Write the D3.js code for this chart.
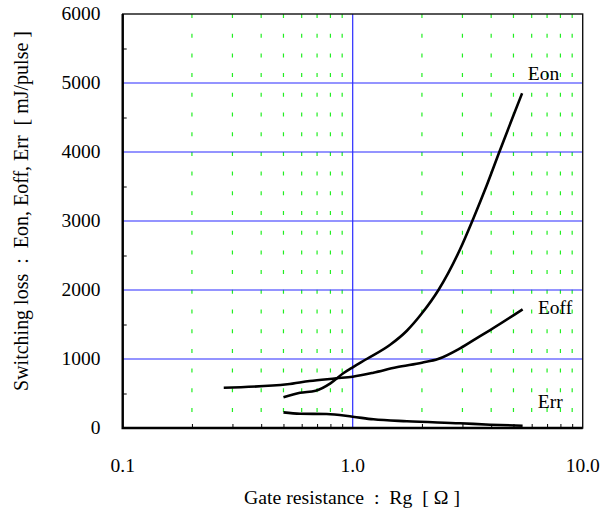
<!DOCTYPE html>
<html>
<head>
  <script src="https://cdnjs.cloudflare.com/ajax/libs/d3/7.8.5/d3.min.js"></script>
  <style>
    body { margin: 0; background: white; }
    .grid-major { stroke: #2a2aff; stroke-width: 1.2px; }
    .grid-minor { stroke: #22ee22; stroke-width: 1.2px; stroke-dasharray: 4 15.7; }
    .curve { fill: none; stroke: black; stroke-width: 2.6px; }
  </style>
</head>
<body>
  <div id="chart"></div>
  <script>
    // values (Rg in ohm, energy in mJ/pulse)
    const eonData = [[0.50,445],[0.59,510],[0.69,540],[0.80,648],[0.91,793],[1.0,880],[1.15,1000],
      [1.45,1203],[1.72,1410],[2.0,1662],[2.36,2000],[2.93,2590],[3.34,3030],[3.82,3510],
      [4.34,4000],[4.91,4464],[5.45,4850]];
    const eoffData = [[0.275,584],[0.52,633],[0.65,681],[0.85,720],[1.0,744],[1.23,801],[1.55,880],
      [2.0,947],[2.35,1000],[2.93,1155],[3.58,1333],[3.96,1420],[5.48,1720]];
    const errData = [[0.50,227],[0.59,207],[0.77,203],[1.0,164],[1.23,126],[1.72,97],
      [2.93,68],[3.96,48],[5.48,33]];

    const xTicks = [0.1, 1, 10];
    const xMinor = [0.2,0.3,0.4,0.5,0.6,0.7,0.8,0.9,2,3,4,5,6,7,8,9];
    const yTicks = [0,1000,2000,3000,4000,5000,6000];
    const yMinor = [500,1500,2500,3500,4500,5500];
    const curveLabels = [
      { name: "Eon",  rg: 6.75, e: 5043 },
      { name: "Eoff", rg: 7.58, e: 1652 },
      { name: "Err",  rg: 7.23, e: 285 }
    ];

    const serif = "'Liberation Serif', 'Times New Roman', serif";
    const width = 613, height = 513;
    const svg = d3.select("#chart").append("svg")
      .attr("width", width).attr("height", height);

    const x = d3.scaleLog().domain([0.1, 10]).range([122.7, 582.7]);
    const y = d3.scaleLinear().domain([0, 6000]).range([428, 14]);

    // green dashed minor verticals
    svg.selectAll(".grid-minor").data(xMinor).enter().append("line")
      .attr("class", "grid-minor")
      .attr("x1", d => x(d)).attr("x2", d => x(d))
      .attr("y1", y(6000)).attr("y2", y(0));

    // blue major grid
    svg.selectAll(".gy").data(yTicks.slice(1, -1)).enter().append("line")
      .attr("class", "grid-major")
      .attr("x1", x(0.1)).attr("x2", x(10))
      .attr("y1", d => y(d)).attr("y2", d => y(d));
    svg.append("line").attr("class", "grid-major")
      .attr("x1", x(1)).attr("x2", x(1))
      .attr("y1", y(6000)).attr("y2", y(0));

    // axes with inward ticks
    const yAxis = svg.append("g").attr("transform", `translate(${x(0.1)},0)`)
      .call(d3.axisRight(y).tickValues(yMinor).tickSize(4).tickFormat(""));
    yAxis.select(".domain").remove();
    yAxis.selectAll("line").attr("stroke", "black");

    const xAxis = svg.append("g").attr("transform", `translate(0,${y(0)})`)
      .call(d3.axisTop(x).tickValues(xMinor).tickSize(4).tickFormat(""));
    xAxis.select(".domain").remove();
    xAxis.selectAll("line").attr("stroke", "black");

    // frame
    svg.append("rect")
      .attr("x", x(0.1)).attr("y", y(6000))
      .attr("width", x(10) - x(0.1)).attr("height", y(0) - y(6000))
      .attr("fill", "none").attr("stroke", "#111").attr("stroke-width", 1.4);
    svg.append("path")
      .attr("d", `M${x(0.1)},${y(6000)}V${y(0)}H${x(10)}`)
      .attr("fill", "none").attr("stroke", "black").attr("stroke-width", 2.4);

    // curves
    const line = d3.line().x(d => x(d[0])).y(d => y(d[1])).curve(d3.curveMonotoneX);
    [eonData, eoffData, errData].forEach(s => {
      svg.append("path").attr("class", "curve").attr("d", line(s));
    });

    // tick labels
    svg.selectAll(".ylab").data(yTicks).enter().append("text")
      .attr("font-family", serif)
      .attr("x", 100.5).attr("y", d => y(d)).attr("dy", "0.32em")
      .attr("text-anchor", "end").attr("font-size", 19.5)
      .text(d => d);
    svg.selectAll(".xlab").data(xTicks).enter().append("text")
      .attr("font-family", serif)
      .attr("x", d => x(d)).attr("y", 472)
      .attr("text-anchor", "middle").attr("font-size", 19.5)
      .text(d => d.toFixed(1));

    // curve labels
    svg.selectAll(".clab").data(curveLabels).enter().append("text")
      .attr("font-family", serif)
      .attr("x", d => x(d.rg)).attr("y", d => y(d.e))
      .attr("text-anchor", "middle").attr("font-size", 19.5)
      .text(d => d.name);

    // axis titles, sized to the span they take in the reference
    function fitText(sel, span) {
      const w = sel.node().getComputedTextLength();
      sel.attr("font-size", 19.5 * span / w);
    }
    const xTitle = svg.append("text")
      .attr("font-family", serif).attr("font-size", 19.5)
      .attr("x", 352).attr("y", 504)
      .attr("text-anchor", "middle")
      .text("Gate resistance \u00a0:\u00a0 Rg \u00a0[ \u03a9 ]");
    fitText(xTitle, 216);
    const yTitle = svg.append("text")
      .attr("font-family", serif).attr("font-size", 19.5)
      .attr("transform", "translate(28,211) rotate(-90)")
      .attr("text-anchor", "middle")
      .text("Switching loss \u00a0:\u00a0 Eon, Eoff, Err \u00a0[ mJ/pulse ]");
    fitText(yTitle, 360);
  </script>
</body>
</html>
